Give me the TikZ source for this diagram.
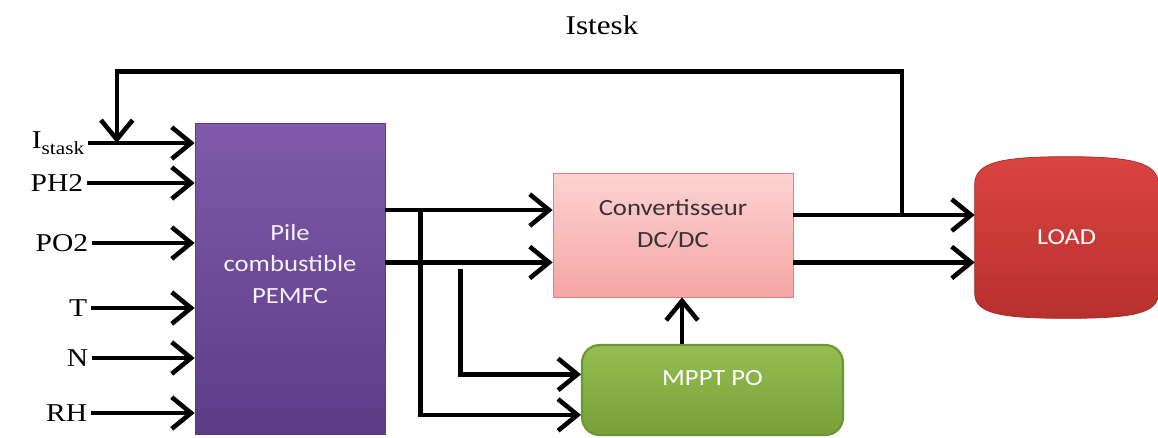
\documentclass[tikz,border=0pt]{standalone}
\usepackage{fontspec}
\setmainfont{Liberation Serif}[FakeStretch=1.15]
\newfontfamily\calib{Carlito}[FakeStretch=1.15]
\usetikzlibrary{arrows.meta, positioning, calc}
\definecolor{piletop}{HTML}{8059AB}
\definecolor{pilebot}{HTML}{5B3D86}
\definecolor{convtop}{HTML}{FCD3D2}
\definecolor{convbot}{HTML}{F6A5A4}
\definecolor{convline}{HTML}{D9827F}
\definecolor{mppttop}{HTML}{94BE52}
\definecolor{mpptbot}{HTML}{77A137}
\definecolor{mpptline}{HTML}{6E9433}
\definecolor{loadtop}{HTML}{DA4441}
\definecolor{loadbot}{HTML}{B8302D}
\definecolor{loadline}{HTML}{A02B29}

\begin{document}
\begin{tikzpicture}[x=0.02cm, y=-0.02cm, >={Straight Barb[length=11pt,width=18pt]},
    wire/.style={line width=2.6pt},
    block/.style={rectangle, inner sep=0pt},
    blocktext/.style={align=center, font=\calib\fontsize{13.2}{17.8}\selectfont},
    inlabel/.style={anchor=east, inner sep=2pt, font=\fontsize{14.6}{17}\selectfont}]

    \useasboundingbox (0,0) rectangle (1158,437);

    \node [font=\fontsize{15.4}{18}\selectfont] (title) at (602,25) {Istesk};

    \node [block, top color=piletop, bottom color=pilebot, draw=pilebot, minimum width=3.8cm, minimum height=6.22cm,
        label={[blocktext, text=white!92!piletop, yshift=0.29cm]center:Pile\\combustible\\PEMFC}] (pile) at (290,278.5) {};
    \node [block, top color=convtop, bottom color=convbot, draw=convline, minimum width=4.8cm, minimum height=2.48cm,
        label={[blocktext, text=black!80, yshift=0.22cm]center:Convertisseur\\DC/DC}] (conv) at (673,235) {};
    \node [block, top color=mppttop, bottom color=mpptbot, draw=mpptline, line width=1.2pt, rounded corners=0.35cm,
        minimum width=5.22cm, minimum height=1.8cm,
        label={[blocktext, text=white, yshift=0.24cm]center:MPPT PO}] (mppt) at (712.5,390) {};
    \node [block, minimum width=3.66cm, minimum height=3.22cm] (load) at (1066.5,237.5) {};
    \shade [top color=loadtop, bottom color=loadbot, draw=loadline]
        ($(load.north west)+(0,28)$) .. controls ($(load.north west)+(0,6)$) and ($(load.north west)+(25,0)$) .. (load.north)
        .. controls ($(load.north east)+(-25,0)$) and ($(load.north east)+(0,6)$) .. ($(load.north east)+(0,28)$)
        -- ($(load.south east)+(0,-25)$) .. controls ($(load.south east)+(0,-5)$) and ($(load.south east)+(-25,0)$) .. (load.south)
        .. controls ($(load.south west)+(25,0)$) and ($(load.south west)+(0,-5)$) .. ($(load.south west)+(0,-25)$) -- cycle;
    \node [text=white, font=\calib\fontsize{13}{15}\selectfont] (loadtext) at (load.center) {LOAD};

    % inputs of the stack
    \node [inlabel] (istask) at (88,143) {I\raisebox{-0.5ex}{\fontsize{10.5}{12}\selectfont stask}};
    \node [inlabel] (ph2) at (87,183) {PH2};
    \node [inlabel] (po2) at (92,243) {PO2};
    \node [inlabel] (temp) at (91,308) {T};
    \node [inlabel] (n) at (92,358) {N};
    \node [inlabel] (rh) at (91,413) {RH};

    \draw[wire,->] (istask.east) -- (pile.west |- istask.east);
    \draw[wire,->] (ph2.east) -- (pile.west |- ph2.east);
    \draw[wire,->] (po2.east) -- (pile.west |- po2.east);
    \draw[wire,->] (temp.east) -- (pile.west |- temp.east);
    \draw[wire,->] (n.east) -- (pile.west |- n.east);
    \draw[wire,->] (rh.east) -- (pile.west |- rh.east);

    % stack to converter and MPPT
    \coordinate (cin1) at ($(conv.north west)!0.3!(conv.south west)$);
    \coordinate (cin2) at ($(conv.north west)!0.72!(conv.south west)$);
    \coordinate (min1) at ($(mppt.north west)!0.33!(mppt.south west)$);
    \coordinate (min2) at ($(mppt.north west)!0.77!(mppt.south west)$);
    \draw[wire,->] (pile.east |- cin1) -- (cin1);
    \draw[wire,->] (pile.east |- cin2) -- (cin2);
    \draw[wire,->] ([xshift=0.7cm]pile.east |- cin1) |- (min2);
    \draw[wire,->] ([xshift=1.5cm,yshift=-0.14cm]pile.east |- cin2) |- (min1);
    \draw[wire,->] ([xshift=0.18cm]conv.south |- mppt.north) -- ([xshift=0.18cm]conv.south);

    % converter to load, feedback
    \coordinate (cout1) at ($(conv.north east)!0.34!(conv.south east)$);
    \coordinate (cout2) at ($(conv.north east)!0.72!(conv.south east)$);
    \draw[wire,->] (cout1) -- (load.west |- cout1);
    \draw[wire,->] (cout2) -- (load.west |- cout2);
    \coordinate (fbfoot) at ($(cout1)!0.6!(load.west |- cout1)$);
    \coordinate (fbtip) at ($(istask.east)!0.27!(pile.west |- istask.east)$);
    \draw[wire,->] (fbfoot) |- ([yshift=2.02cm]conv.north) -| (fbtip);
\end{tikzpicture}
\end{document}
